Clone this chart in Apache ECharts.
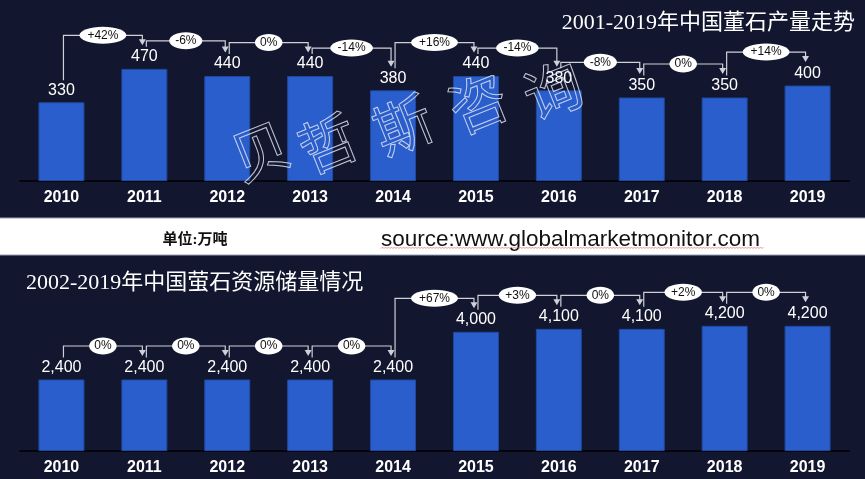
<!DOCTYPE html>
<html><head><meta charset="utf-8">
<script src="https://cdn.jsdelivr.net/npm/echarts/dist/echarts.min.js"></script>
<style>html,body{margin:0;padding:0;background:#12162e;}#c{width:865px;height:479px;}</style>
</head><body><div id="c"></div>
<script>
const years = ['2010','2011','2012','2013','2014','2015','2016','2017','2018','2019'];
const productionValues = [330, 470, 440, 440, 380, 440, 380, 350, 350, 400];
const productionChanges = ['+42%','-6%','0%','-14%','+16%','-14%','-8%','0%','+14%'];
const reserveValues = [2400, 2400, 2400, 2400, 2400, 4000, 4100, 4100, 4200, 4200];
const reserveChanges = ['0%','0%','0%','0%','+67%','+3%','0%','+2%','0%'];
const topTitle = '2001-2019年中国董石产量走势';
const bottomTitle = '2002-2019年中国萤石资源储量情况';
const unitText = '单位:万吨';
const sourceText = 'source:www.globalmarketmonitor.com';
const watermarkChars = ['贝','哲','斯','咨','询'];

const BG = '#12162e';
const chart = echarts.init(document.getElementById('c'), null, {renderer:'canvas'});
const axisLabel = {color:'#ffffff', fontSize:16, fontWeight:'bold', fontFamily:'Arial, "Liberation Sans", sans-serif', margin:9};
const axisLine = {lineStyle:{color:'#05060d', width:2}};
const barStyle = {color:'#2a5ecc', borderColor:'#1f4aa0', borderWidth:1};
const labelBase = {show:true, position:'top', distance:4, color:'#ffffff', fontSize:16, fontFamily:'Arial, "Liberation Sans", sans-serif'};

chart.setOption({
  backgroundColor: BG,
  animation: false,
  grid: [
    {left:20, right:16, top:14, height:167},
    {left:20, right:16, top:302, height:149}
  ],
  xAxis: [
    {type:'category', gridIndex:0, data:years, axisLine, axisTick:{show:false}, axisLabel},
    {type:'category', gridIndex:1, data:years, axisLine, axisTick:{show:false}, axisLabel}
  ],
  yAxis: [
    {type:'value', gridIndex:0, min:0, max:700, show:false},
    {type:'value', gridIndex:1, min:0, max:5000, show:false}
  ],
  series: [
    {type:'bar', xAxisIndex:0, yAxisIndex:0, data:productionValues, barWidth:46, itemStyle:barStyle, label:labelBase},
    {type:'bar', xAxisIndex:1, yAxisIndex:1, data:reserveValues, barWidth:46, itemStyle:barStyle,
     label:Object.assign({}, labelBase, {formatter: p => Number(p.value).toLocaleString('en-US')})}
  ]
});

const ctx = document.createElement('canvas').getContext('2d');
function textW(t, font){ ctx.font = font; return ctx.measureText(t).width; }

const graphics = [];
function connectors(values, changes, idx){
  for (let i = 0; i < values.length - 1; i++) {
    const p0 = chart.convertToPixel({xAxisIndex:idx, yAxisIndex:idx}, [years[i], values[i]]);
    const p1 = chart.convertToPixel({xAxisIndex:idx, yAxisIndex:idx}, [years[i+1], values[i+1]]);
    const x0 = p0[0] + 2, x1 = p1[0] - 2;
    const top = Math.min(p0[1], p1[1]);
    const H = top - (values[i] > values[i+1] ? 28 : 33.5);
    const y0 = p0[1] - 22, tip = p1[1] - 23.5;
    const lc = '#cfd0d8';
    graphics.push({type:'polyline', z:50, shape:{points:[[x0,y0],[x0,H],[x1,H],[x1,tip-5]]}, style:{stroke:lc, lineWidth:1.2, fill:null}});
    graphics.push({type:'polygon', z:50, shape:{points:[[x1-3.5,tip-6],[x1+3.5,tip-6],[x1,tip]]}, style:{fill:lc}});
    const font = '12px Arial';
    const tw = textW(changes[i], font);
    const cx = (x0 + x1) / 2;
    graphics.push({type:'ellipse', z:51, shape:{cx:cx, cy:H, rx:tw/1.414+1.5, ry:8.5}, style:{fill:'#ffffff'}});
    graphics.push({type:'text', z:52, x:cx, y:H, style:{text:changes[i], fill:'#111111', fontSize:12, fontFamily:'Arial, "Liberation Sans", sans-serif',
      align:'center', verticalAlign:'middle', textAlign:'center', textVerticalAlign:'middle'}});
  }
}
connectors(productionValues, productionChanges, 0);
connectors(reserveValues, reserveChanges, 1);

const serifFont = '"Liberation Serif", "Noto Sans CJK SC", serif';
graphics.push({type:'text', z:60, x:855, y:23, style:{text:topTitle, fill:'#ffffff', fontSize:22, fontFamily:serifFont,
  align:'right', verticalAlign:'middle', textAlign:'right', textVerticalAlign:'middle'}});
graphics.push({type:'text', z:60, x:26, y:283, style:{text:bottomTitle, fill:'#ffffff', fontSize:22, fontFamily:serifFont,
  align:'left', verticalAlign:'middle', textAlign:'left', textVerticalAlign:'middle'}});

// white strip
graphics.push({type:'rect', z:40, shape:{x:0, y:218, width:865, height:37}, style:{fill:'#ffffff'}});
graphics.push({type:'line', z:41, shape:{x1:0, y1:218, x2:865, y2:218}, style:{stroke:'#9aa0b4', lineWidth:1}});
graphics.push({type:'line', z:41, shape:{x1:0, y1:255, x2:865, y2:255}, style:{stroke:'#9aa0b4', lineWidth:1}});
graphics.push({type:'text', z:42, x:195, y:240, style:{text:unitText, fill:'#111111', fontSize:15, fontWeight:'bold', fontFamily:serifFont,
  align:'center', verticalAlign:'middle', textAlign:'center', textVerticalAlign:'middle'}});
graphics.push({type:'text', z:42, x:381, y:240, style:{text:sourceText, fill:'#111111', fontSize:22.5, fontFamily:'Arial, "Liberation Sans", sans-serif',
  align:'left', verticalAlign:'middle', textAlign:'left', textVerticalAlign:'middle'}});
const wave = [];
for (let x = 381, k = 0; x <= 764; x += 1.5, k++) wave.push([x, k % 2 ? 247 : 248.6]);
graphics.push({type:'polyline', z:42, shape:{points:wave}, style:{stroke:'#e07070', lineWidth:0.7, fill:null}});

// watermark
const wmPos = [[260,151],[328,143],[403,125],[478,103],[553,90]];
watermarkChars.forEach((ch, i) => {
  graphics.push({type:'text', z:70, x:wmPos[i][0], y:wmPos[i][1], rotation:0.38, originX:0, originY:0,
    style:{text:ch, fill:'transparent', stroke:'rgba(225,228,240,0.85)', lineWidth:1, fontSize:58, fontFamily:'"Noto Sans CJK SC", sans-serif',
      align:'center', verticalAlign:'middle', textAlign:'center', textVerticalAlign:'middle'}});
});

chart.setOption({graphic: graphics});
</script></body></html>
